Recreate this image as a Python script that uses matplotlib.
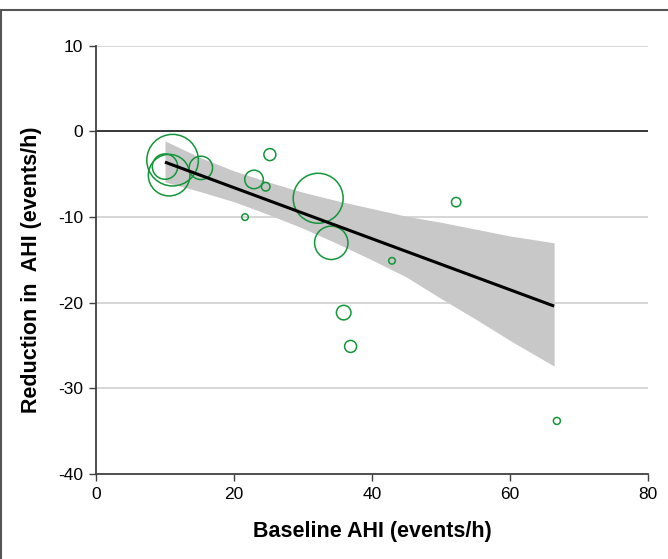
import matplotlib
matplotlib.use('Agg')
import matplotlib.pyplot as plt
from matplotlib.patches import Rectangle
import numpy as np

# studies: baseline AHI, change in AHI, relative weight
baseline_ahi = [11.1, 10.6, 10.0, 15.2, 25.2, 22.9, 24.6, 21.6, 32.2, 34.1, 52.2, 42.9, 35.9, 36.9, 66.8]
ahi_change = [-3.35, -5.1, -4.1, -4.25, -2.7, -5.6, -6.45, -10.0, -7.8, -13.0, -8.25, -15.1, -21.15, -25.1, -33.8]
weights = [666, 433, 161, 137, 36, 86, 18.5, 10.9, 625, 279, 22, 10.9, 53, 36, 12.3]

# meta-regression fit and its confidence band
fit_x = [10, 66.4]
fit_y = [-3.58, -20.39]
band_x = [10, 15, 20, 25, 30, 35, 40, 45, 50, 55, 60, 66.4]
band_lo = [-5.9, -7.0, -8.2, -9.7, -11.3, -13.1, -15.0, -17.0, -19.5, -21.9, -24.4, -27.4]
band_hi = [-1.1, -3.0, -4.6, -5.9, -7.1, -8.1, -9.0, -9.9, -10.6, -11.4, -12.2, -13.0]

xticks = [0, 20, 40, 60, 80]
yticks = [-40, -30, -20, -10, 0, 10]

plt.rcParams['font.family'] = ['Liberation Sans', 'DejaVu Sans']
plt.rcParams['axes.unicode_minus'] = False

fig = plt.figure(figsize=(6.68, 5.59), dpi=100)
ax = fig.add_axes([0.1437, 0.152, 0.8263, 0.766])

for y in yticks:
    if y == 0:
        ax.axhline(y, color='black', lw=1.1, zorder=1)
    elif y != -40:
        ax.axhline(y, color='#cccccc', lw=1.1, zorder=0)

ax.fill_between(band_x, band_lo, band_hi, color='#c8c8c8', lw=0, zorder=2)
ax.plot(fit_x, fit_y, color='black', lw=2.2, zorder=4, solid_capstyle='butt')
ax.scatter(baseline_ahi, ahi_change, s=np.array(weights) * 2.07,
           facecolors='none', edgecolors='#139639', linewidths=1.1, zorder=3)

ax.set_xlim(0, 80)
ax.set_ylim(-40, 10)
ax.set_xticks(xticks)
ax.set_yticks(yticks)
ax.tick_params(direction='out', length=5, width=1, color='#404040', labelsize=12.5, pad=4)
for side in ['top', 'right']:
    ax.spines[side].set_visible(False)
for side in ['left', 'bottom']:
    ax.spines[side].set_color('#404040')
    ax.spines[side].set_linewidth(1.3)

ax.set_xlabel('Baseline AHI (events/h)', fontsize=15.5, fontweight='bold', labelpad=14)
ax.set_ylabel('Reduction in  AHI (events/h)', fontsize=15.5, fontweight='bold')
ax.yaxis.set_label_coords(-0.098, 0.477)

# outer frame
fig.patches.append(Rectangle((0.0015, -0.1), 1.2, 1.1 - 10 / 559, transform=fig.transFigure,
                             fill=False, edgecolor='#555555', lw=1.5, clip_on=False))

plt.savefig('out.png', dpi=100)
plt.close(fig)
